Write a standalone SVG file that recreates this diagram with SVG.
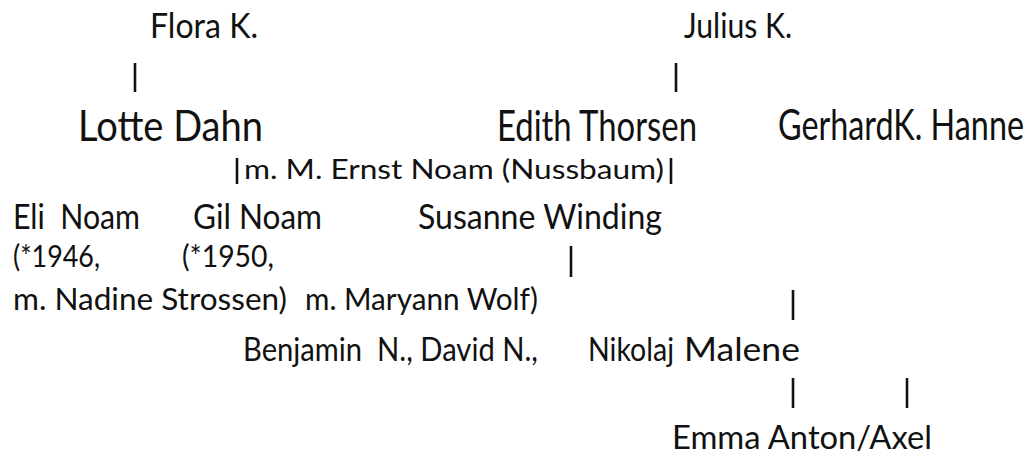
<svg xmlns="http://www.w3.org/2000/svg" width="1031" height="456" viewBox="0 0 1031 456">
<style>
text{font-family:Lato,"Open Sans","Liberation Sans",sans-serif;fill:#111;white-space:pre}
.t1{font-size:35px}
.t2{font-size:42px}
.t3{font-size:27px}
.t4{font-size:34px}
.t5{font-size:30px}
.t6{font-size:32px}
line{stroke:#111;stroke-width:2.6}
</style>
<rect width="1031" height="456" fill="#fff"/>
<g id="flora"><text class="t1" x="150" y="38" textLength="108" lengthAdjust="spacingAndGlyphs">Flora K.</text></g>
<g id="julius"><text class="t1" x="684" y="38" textLength="108" lengthAdjust="spacingAndGlyphs">Julius K.</text></g>
<g id="lotte"><text class="t2" x="78" y="141" textLength="185" lengthAdjust="spacingAndGlyphs">Lotte Dahn</text></g>
<g id="edith"><text class="t2" x="497" y="141" textLength="200" lengthAdjust="spacingAndGlyphs">Edith Thorsen</text></g>
<g id="gerhard"><text class="t2" x="778" y="140" textLength="246" lengthAdjust="spacingAndGlyphs">GerhardK. Hanne</text></g>
<g id="marriage"><text class="t3" x="244" y="179" textLength="420" lengthAdjust="spacingAndGlyphs">m. M. Ernst Noam (Nussbaum)</text></g>
<g id="eli"><text class="t4" x="13" y="229" textLength="127" lengthAdjust="spacingAndGlyphs">Eli  Noam</text><text class="t5" x="13" y="267" textLength="87" lengthAdjust="spacingAndGlyphs">(*1946,</text><text class="t5" x="13" y="310" textLength="274" lengthAdjust="spacingAndGlyphs">m. Nadine Strossen)</text></g>
<g id="gil"><text class="t4" x="193" y="229" textLength="129" lengthAdjust="spacingAndGlyphs">Gil Noam</text><text class="t5" x="182" y="267" textLength="92" lengthAdjust="spacingAndGlyphs">(*1950,</text><text class="t5" x="305" y="310" textLength="233" lengthAdjust="spacingAndGlyphs">m. Maryann Wolf)</text></g>
<g id="susanne"><text class="t4" x="418" y="229" textLength="244" lengthAdjust="spacingAndGlyphs">Susanne Winding</text></g>
<g id="children"><text class="t6" x="243" y="361" textLength="295" lengthAdjust="spacingAndGlyphs">Benjamin  N., David N.,</text></g>
<g id="nikolaj"><text class="t6" x="588" y="361" textLength="86" lengthAdjust="spacingAndGlyphs">Nikolaj</text></g>
<g id="malene"><text class="t6" x="684" y="361" textLength="116" lengthAdjust="spacingAndGlyphs">Malene</text></g>
<g id="grandchildren"><text class="t6" x="672" y="449" textLength="260" lengthAdjust="spacingAndGlyphs">Emma Anton/Axel</text></g>
<g id="connectors">
<line x1="135" y1="63" x2="135" y2="92"/>
<line x1="676" y1="63" x2="676" y2="92"/>
<line x1="237" y1="158" x2="237" y2="184"/>
<line x1="671" y1="158" x2="671" y2="184"/>
<line x1="571" y1="246" x2="571" y2="277"/>
<line x1="793" y1="290" x2="793" y2="320"/>
<line x1="793" y1="378" x2="793" y2="408"/>
<line x1="907" y1="378" x2="907" y2="408"/>
</g>
</svg>
